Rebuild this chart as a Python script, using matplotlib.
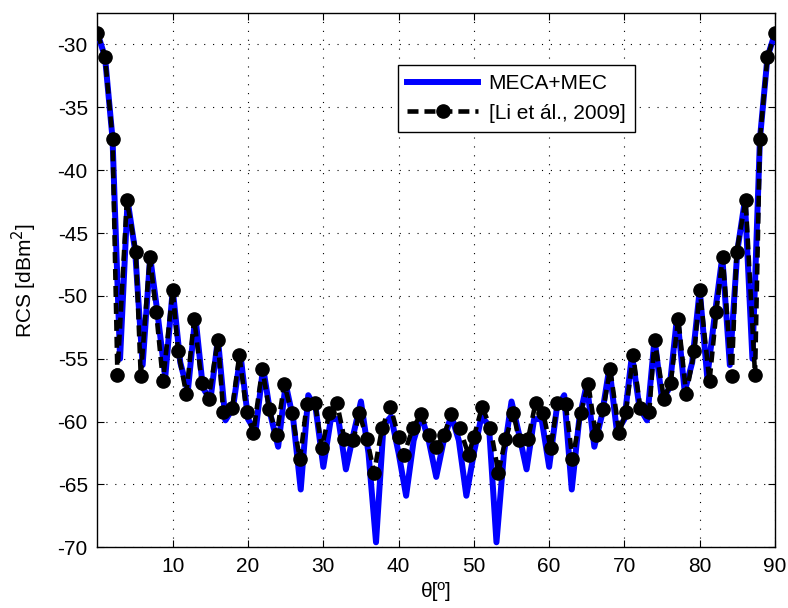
import numpy as np
import matplotlib
matplotlib.use('Agg')
import matplotlib.pyplot as plt

plt.rcParams['font.family'] = ['Liberation Sans', 'DejaVu Sans']
plt.rcParams['axes.unicode_minus'] = False

# MECA+MEC, sampled every degree
theta_meca = list(range(0, 91))
rcs_meca = [
    -29.1, -31.0, -37.5, -55.0, -42.4, -46.4, -55.5, -46.9, -51.5, -56.5,
    -49.5, -55.3, -57.6, -51.6, -57.3, -58.3, -53.4, -59.9, -58.9, -54.7,
    -59.8, -60.8, -55.7, -59.5, -62.0, -57.0, -59.8, -65.4, -57.9, -59.0,
    -63.6, -59.8, -59.8, -63.8, -61.0, -58.4, -62.5, -69.6, -60.3, -59.6,
    -62.5, -65.9, -61.5, -59.5, -61.5, -64.4, -61.5, -59.5, -61.5, -65.9,
    -62.5, -59.6, -60.3, -69.6, -62.5, -58.4, -61.0, -63.8, -59.8, -59.8,
    -63.6, -59.0, -57.9, -65.4, -59.8, -57.0, -62.0, -59.5, -55.7, -60.8,
    -59.8, -54.7, -58.9, -59.9, -53.4, -58.3, -57.3, -51.6, -57.6, -55.3,
    -49.5, -56.5, -51.5, -46.9, -55.5, -46.4, -42.4, -55.0, -37.5, -31.0,
    -29.1,
]

theta_li = [
    0.0, 1.0, 2.0, 2.65, 3.9, 5.1, 5.75, 6.95, 7.8, 8.7,
    10.0, 10.7, 11.8, 12.85, 13.85, 14.75, 16.0, 16.7, 17.9, 18.85,
    19.8, 20.7, 21.9, 22.8, 23.8, 24.8, 25.8, 26.9, 27.8, 28.9,
    29.8, 30.8, 31.8, 32.8, 34.0, 34.75, 35.8, 36.75, 37.8, 38.9,
    40.0, 40.7, 41.9, 43.0, 44.0, 45.0, 46.0, 47.0, 48.1, 49.3,
    50.0, 51.1, 52.2, 53.25, 54.2, 55.25, 56.0, 57.2, 58.2, 59.2,
    60.2, 61.1, 62.2, 63.1, 64.2, 65.2, 66.2, 67.2, 68.1, 69.3,
    70.2, 71.15, 72.1, 73.3, 74.0, 75.25, 76.15, 77.15, 78.2, 79.3,
    80.0, 81.3, 82.2, 83.05, 84.25, 84.9, 86.1, 87.35, 88.0, 89.0,
    90.0,
]
rcs_li = [
    -29.1, -31.0, -37.5, -56.3, -42.4, -46.5, -56.4, -46.9, -51.3, -56.8,
    -49.5, -54.4, -57.8, -51.8, -56.9, -58.2, -53.5, -59.2, -58.9, -54.7,
    -59.2, -60.9, -55.8, -59.0, -61.1, -57.0, -59.3, -63.0, -58.6, -58.5,
    -62.1, -59.3, -58.5, -61.35, -61.5, -59.3, -61.4, -64.05, -60.5, -58.8,
    -61.2, -62.65, -60.5, -59.4, -61.1, -62.0, -61.1, -59.4, -60.5, -62.65,
    -61.2, -58.8, -60.5, -64.05, -61.4, -59.3, -61.5, -61.35, -58.5, -59.3,
    -62.1, -58.5, -58.6, -63.0, -59.3, -57.0, -61.1, -59.0, -55.8, -60.9,
    -59.2, -54.7, -58.9, -59.2, -53.5, -58.2, -56.9, -51.8, -57.8, -54.4,
    -49.5, -56.8, -51.3, -46.9, -56.4, -46.5, -42.4, -56.3, -37.5, -31.0,
    -29.1,
]

fig = plt.figure(figsize=(7.88, 6.08), dpi=100)
ax = fig.add_axes([0.1237, 0.0998, 0.8598, 0.8788])

ax.plot(theta_meca, rcs_meca, color=(0, 0, 1), lw=4.3, solid_joinstyle='round',
        label='MECA+MEC', zorder=3)
ax.plot(theta_li, rcs_li, color='k', lw=3.3, linestyle=(0, (2.4, 1.3)),
        marker='o', markersize=9.5, label='[Li et ál., 2009]', zorder=4)

ax.set_xlim(0, 90)
ax.set_ylim(-70, -27.5)
ax.set_xticks(range(10, 91, 10))
ax.set_yticks(range(-70, -29, 5))
ax.grid(True, color='k', linestyle=(0, (1, 7)), linewidth=0.8)
ax.tick_params(direction='in', top=True, right=True, labelsize=15, length=5, pad=7)
for s in ax.spines.values():
    s.set_linewidth(1.0)

ax.set_xlabel('θ[º]', fontsize=15, labelpad=4)
ax.set_ylabel('RCS [dBm$^2$]', fontsize=15, labelpad=13)

leg = ax.legend(loc='upper left', bbox_to_anchor=(0.4435, 0.903), fontsize=15,
                handlelength=3.4, fancybox=False, framealpha=1, edgecolor='k',
                borderpad=0.45, labelspacing=0.5, handletextpad=0.5,
                borderaxespad=0)
leg.get_frame().set_linewidth(1.0)

fig.savefig('out.png', dpi=100)
